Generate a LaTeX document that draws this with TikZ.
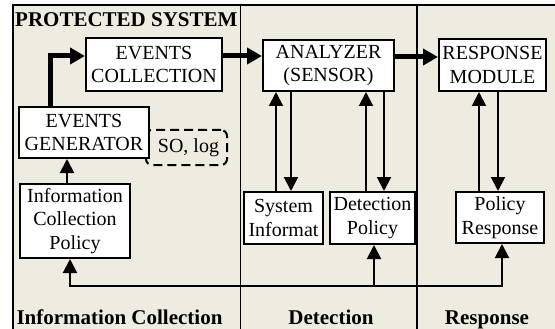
\documentclass[tikz,border=0pt]{standalone}
\usepackage{fontspec}
\setmainfont{Liberation Serif}
\usetikzlibrary{arrows.meta,calc}
\definecolor{bg}{RGB}{238,235,224}
\begin{document}
\begin{tikzpicture}[x=1pt,y=-1pt,
  box/.style={draw, fill=white, line width=2pt, inner sep=0pt, align=center, font=\fontsize{20}{23.5}\selectfont},
  dashbox/.style={draw, line width=2pt, dash pattern=on 9pt off 5pt, rounded corners=6pt, inner sep=0pt, font=\fontsize{20}{23.5}\selectfont},
  thickarrow/.style={line width=5pt, -{Triangle[width=16pt,length=15pt]}},
  thinarrow/.style={line width=2pt, -{Triangle[width=14pt,length=14pt]}},
  divider/.style={line width=1.5pt},
  lbl/.style={font=\fontsize{21}{24}\selectfont\bfseries, inner sep=0pt}]
\useasboundingbox (0,0) rectangle (555,329);
\fill[bg] (13,5) rectangle (555,329);
\draw[divider] (13,329) -- (13,5) -- (555,5);
\draw[divider] (240.5,5) -- (240.5,329);
\draw[divider] (417,5) -- (417,329);

\node[lbl, anchor=base west] (title) at (15,27) {PROTECTED SYSTEM};
\node[lbl, anchor=base] (l1) at (119.5,324) {Information Collection};
\node[lbl, anchor=base] (l2) at (331,324) {Detection};
\node[lbl, anchor=base] (l3) at (487,324) {Response};

\node[dashbox, minimum width=81pt, minimum height=35pt] (so) at (186.5,147.5) {\hspace*{4pt}SO, log};
\node[box, minimum width=136pt, minimum height=53pt] (ec) at (154,64.5) {EVENTS\\COLLECTION};
\node[box, minimum width=130pt, minimum height=51pt] (eg) at (84,132.5) {EVENTS\\GENERATOR};
\node[box, minimum width=110pt, minimum height=74pt] (icp) at (75,221) {Information\\Collection\\Policy};
\node[box, minimum width=131pt, minimum height=51pt] (an) at (328.5,65.5) {ANALYZER\\(SENSOR)};
\node[box, minimum width=107pt, minimum height=52pt] (rm) at (492.5,65) {RESPONSE\\MODULE};
\node[box, minimum width=79pt, minimum height=52pt] (si) at (283.5,218) {System\\Informat};
\node[box, minimum width=85pt, minimum height=52pt] (dp) at (372.5,218) {Detection\\Policy};
\node[box, minimum width=88pt, minimum height=51pt] (pr) at (500,217.5) {Policy\\Response};

\draw[thickarrow] (50,0 |- eg.north) |- (ec.west |- 0,56);
\draw[thickarrow] (ec.east |- 0,56) -- (an.west |- 0,56);
\draw[thickarrow] (an.east |- 0,57) -- (rm.west |- 0,57);

\draw[thinarrow] (67,0 |- icp.north) -- (67,0 |- eg.south);
\draw[thinarrow] (276,0 |- si.north) -- (276,0 |- an.south);
\draw[thinarrow] (291,0 |- an.south) -- (291,0 |- si.north);
\draw[thinarrow] (366,0 |- dp.north) -- (366,0 |- an.south);
\draw[thinarrow] (384,0 |- an.south) -- (384,0 |- dp.north);
\draw[thinarrow] (479,0 |- pr.north) -- (479,0 |- rm.south);
\draw[thinarrow] (498,0 |- rm.south) -- (498,0 |- pr.north);

\coordinate (fbL) at (70,286);
\coordinate (fbM) at (374,286);
\coordinate (fbR) at (502,286);
\draw[thinarrow] (fbM) -| (fbL |- icp.south);
\draw[thinarrow] (fbM) -| (fbR |- pr.south);
\draw[thinarrow] (fbM) -- (fbM |- dp.south);
\end{tikzpicture}
\end{document}
